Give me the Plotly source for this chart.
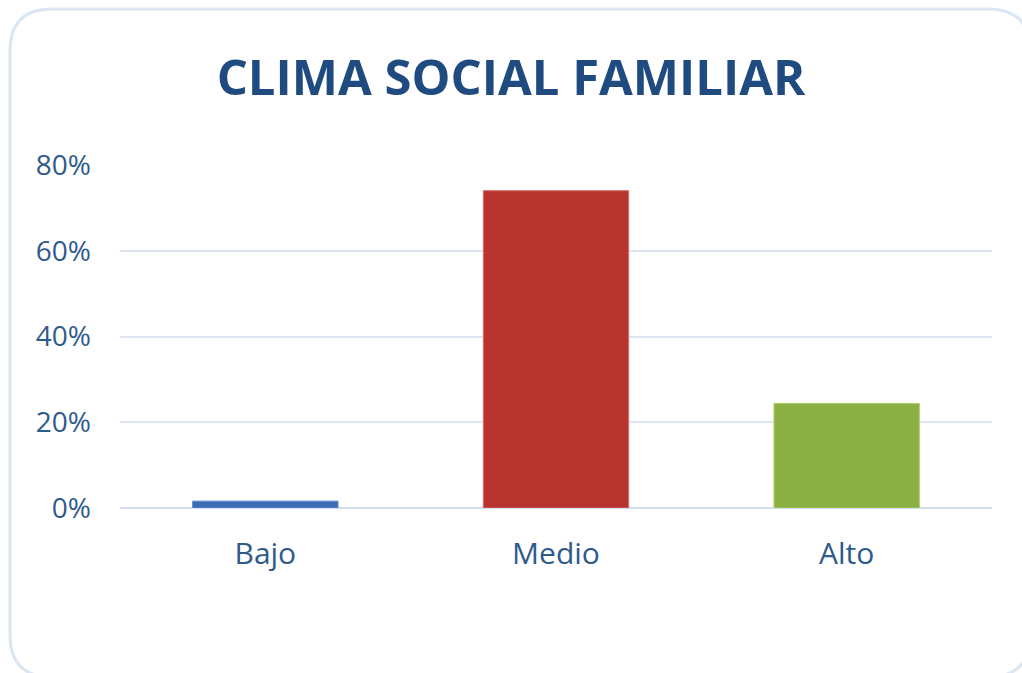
import plotly.graph_objects as go

categories = ["Bajo", "Medio", "Alto"]
values = [0.016, 0.740, 0.244]
colors = ["#3b6db5", "#b8342f", "#8cb043"]
line_colors = ["#5a88c8", "#d46a66", "#aacd6a"]
tick_vals = [0, 0.2, 0.4, 0.6, 0.8]
tick_text = ["0%", "20%", "40%", "60%", "80%"]
title_text = "CLIMA SOCIAL FAMILIAR"

W, H = 1022, 673
L, R, T, B = 120, 30, 165, 165
pw, ph = W - L - R, H - T - B

def px(x):
    return (x - L) / pw

def py(y):
    return (H - B - y) / ph

fig = go.Figure(go.Bar(
    x=categories, y=values, width=0.5,
    marker=dict(color=colors, line=dict(color=line_colors, width=1)),
))

# rounded chart-area border
x0, y0, x1, y1, r = 10, 9, 1030, 677, 42
path = (
    f"M {px(x0 + r)},{py(y0)} L {px(x1 - r)},{py(y0)} "
    f"Q {px(x1)},{py(y0)} {px(x1)},{py(y0 + r)} "
    f"L {px(x1)},{py(y1 - r)} Q {px(x1)},{py(y1)} {px(x1 - r)},{py(y1)} "
    f"L {px(x0 + r)},{py(y1)} Q {px(x0)},{py(y1)} {px(x0)},{py(y1 - r)} "
    f"L {px(x0)},{py(y0 + r)} Q {px(x0)},{py(y0)} {px(x0 + r)},{py(y0)} Z"
)

fig.update_layout(
    width=W, height=H,
    margin=dict(l=L, r=R, t=T, b=B),
    paper_bgcolor="white", plot_bgcolor="white",
    showlegend=False,
    title=dict(
        text=f"<b>{title_text}</b>", x=0.5, xanchor="center",
        y=1 - 78 / H, yanchor="middle", yref="container",
        font=dict(family="Open Sans", size=49, color="#1f4b80"),
    ),
    font=dict(family="Open Sans", color="#2f5a8c"),
    shapes=[dict(type="path", path=path, xref="paper", yref="paper",
                 line=dict(color="#dbe6f3", width=3), fillcolor="rgba(0,0,0,0)",
                 layer="below")],
    bargap=0.5,
)
fig.update_yaxes(
    range=[0, 0.8], tickvals=tick_vals, ticktext=tick_text,
    showgrid=True, gridcolor="#dce6f2", gridwidth=1.5,
    zeroline=True, zerolinecolor="#d3dff0", zerolinewidth=2,
    tickfont=dict(size=28, color="#2f5a8c"), ticklabelstandoff=28,
    showline=False, fixedrange=True,
)
fig.update_xaxes(
    tickfont=dict(size=30, color="#2f5a8c"), ticklabelstandoff=25,
    showline=False, showgrid=False, fixedrange=True,
)

fig.write_html(
    "out.html",
    config={"displayModeBar": False},
    post_script="document.body.style.margin='0';document.body.style.overflow='hidden';",
)
